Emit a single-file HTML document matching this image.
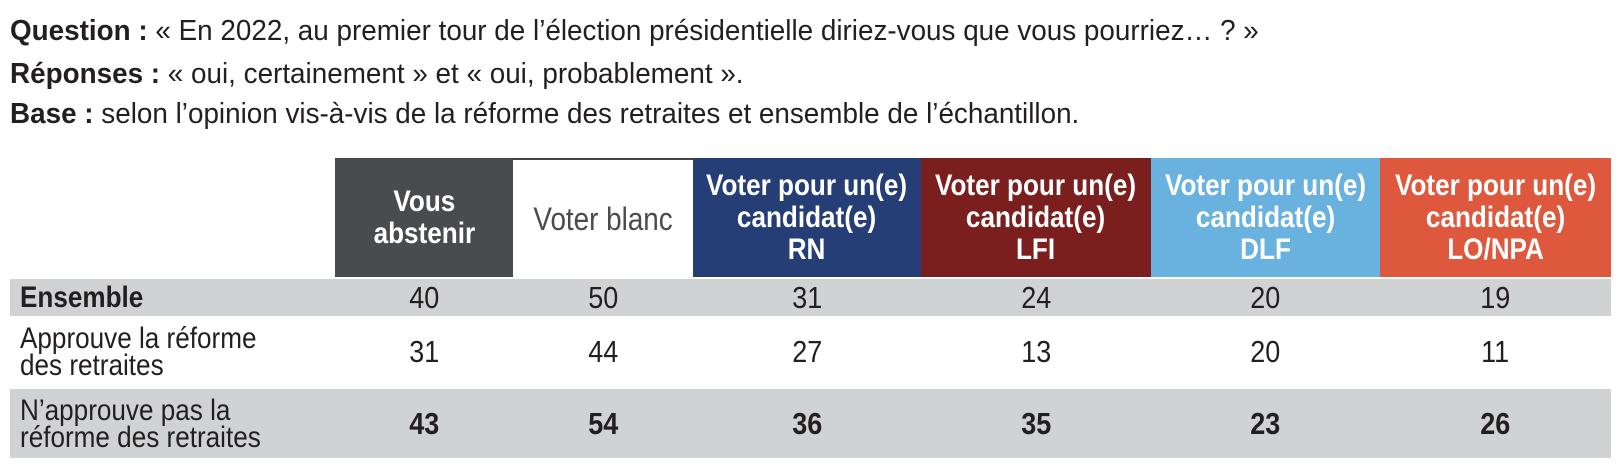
<!DOCTYPE html>
<html><head><meta charset="utf-8"><style>
body{margin:0;width:1620px;height:470px;background:#fff;font-family:"Liberation Sans Narrow","Liberation Sans",sans-serif;color:#231f20;position:relative;overflow:hidden}
.s{display:inline-block;transform:scaleX(0.87);white-space:nowrap}
.t{position:absolute;left:10px;font-size:29px;white-space:nowrap;transform:scaleX(0.96);transform-origin:left center;line-height:32px}
.h{position:absolute;top:158px;height:119px;display:flex;align-items:center;justify-content:center;text-align:center;color:#fff;font-weight:bold;font-size:30px;line-height:32px;white-space:nowrap}
.r{position:absolute;left:10px;width:1601px}
.g{background:#d1d2d4}
.c{position:absolute;display:flex;align-items:center;justify-content:center;font-size:31px}
.l{position:absolute;left:20px;font-size:30px;line-height:27px;display:flex;align-items:center;white-space:nowrap}
.l>span{transform-origin:left center}
</style></head><body>
<div class="t" style="top:15px"><b>Question :</b> « En 2022, au premier tour de l’élection présidentielle diriez-vous que vous pourriez… ? »</div>
<div class="t" style="top:58px"><b>Réponses :</b> « oui, certainement » et « oui, probablement ».</div>
<div class="t" style="top:98px"><b>Base :</b> selon l’opinion vis-à-vis de la réforme des retraites et ensemble de l’échantillon.</div>

<div class="h" style="left:335px;width:178px;background:#4a4b4d"><span class="s">Vous<br>abstenir</span></div>
<div class="h" style="left:513px;width:180px;background:#fff;color:#4a4b4d;font-weight:normal;font-size:32px;border-top:2px solid #444;height:117px;top:158px"><span class="s">Voter blanc</span></div>
<div class="h" style="left:693px;width:228px;background:#253e76"><span class="s">Voter pour un(e)<br>candidat(e)<br>RN</span></div>
<div class="h" style="left:921px;width:230px;background:#7a1e1e"><span class="s">Voter pour un(e)<br>candidat(e)<br>LFI</span></div>
<div class="h" style="left:1151px;width:229px;background:#69b1de"><span class="s">Voter pour un(e)<br>candidat(e)<br>DLF</span></div>
<div class="h" style="left:1380px;width:231px;background:#de583e"><span class="s">Voter pour un(e)<br>candidat(e)<br>LO/NPA</span></div>

<div class="r g" style="top:279px;height:37px"></div>
<div class="r g" style="top:389px;height:69px"></div>

<div class="l" style="top:279px;height:37px;font-weight:bold"><span class="s">Ensemble</span></div>
<div class="l" style="top:317px;height:70px"><span class="s">Approuve la réforme<br>des retraites</span></div>
<div class="l" style="top:389px;height:69px"><span class="s">N’approuve pas la<br>réforme des retraites</span></div>

<div id="cells"></div>
<script>
var cols=[[335,178],[513,180],[693,228],[921,230],[1151,229],[1380,231]];
var rows=[[279,37,["40","50","31","24","20","19"],0],[317,70,["31","44","27","13","20","11"],0],[389,69,["43","54","36","35","23","26"],1]];
var h="";
rows.forEach(function(r){cols.forEach(function(c,i){h+='<div class="c" style="left:'+c[0]+'px;width:'+c[1]+'px;top:'+r[0]+'px;height:'+r[1]+'px;'+(r[3]?'font-weight:bold':'')+'"><span class="s">'+r[2][i]+'</span></div>';});});
document.getElementById("cells").innerHTML=h;
</script>
</body></html>
